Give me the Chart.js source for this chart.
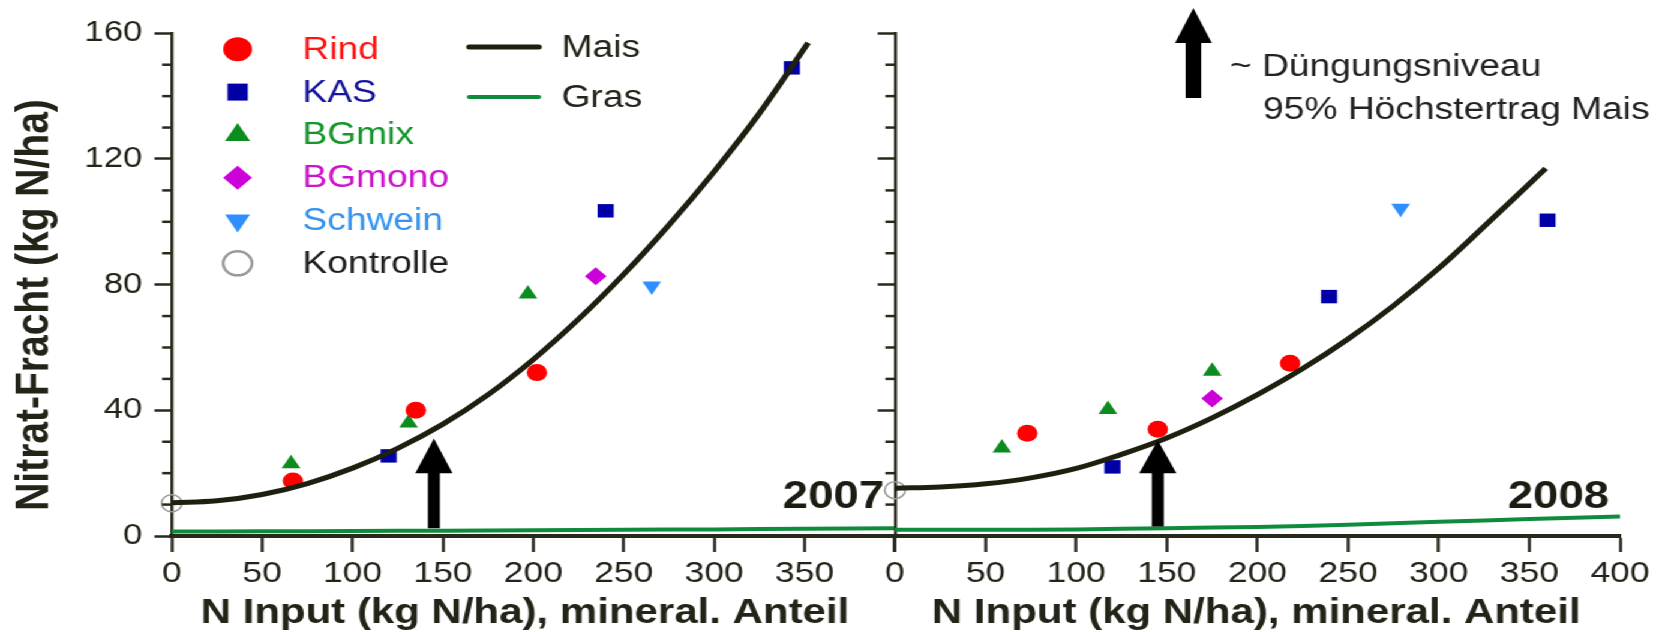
<!DOCTYPE html>
<html>
<head>
<meta charset="utf-8">
<script src="https://cdn.jsdelivr.net/npm/chart.js@4/dist/chart.umd.min.js"></script>
<style>
  html, body { margin: 0; padding: 0; background: #fff; overflow: hidden; }
  /* the reference is stretched sideways, so the whole figure is drawn narrow and widened */
  #wrap { position: relative; width: 1396px; height: 632px; transform: scaleX(1.2); transform-origin: 0 0; }
  #wrap canvas { position: absolute; left: 0; top: 0; }
</style>
</head>
<body>
<div id="wrap">
  <canvas id="c2007" width="1396" height="632"></canvas>
  <canvas id="c2008" width="1396" height="632"></canvas>
</div>
<script>
const categories = ["Rind", "KAS", "BGmix", "BGmono", "Schwein", "Kontrolle"];
const years = ["2007", "2008"];
const xTicks = [0, 50, 100, 150, 200, 250, 300, 350, 400];
const yTicks = [0, 40, 80, 120, 160];
const yMinorTicks = [10, 20, 30, 50, 60, 70, 90, 100, 110, 130, 140, 150];
const xTitle = "N Input (kg N/ha), mineral. Anteil";
const yTitle = "Nitrat-Fracht (kg N/ha)";

// 2007, [N input, Nitrat-Fracht]
const rind2007 = [[67, 17.5], [135, 40], [202, 52]];
const kas2007 = [[120, 25.5], [240, 103.5], [343, 149]];
const bgmix2007 = [[66, 23], [131, 36], [197, 77]];
const bgmono2007 = [[234.5, 82.7]];
const schwein2007 = [[265.5, 79.6]];
const kontrolle2007 = [[0, 10.4]];

// 2008
const rind2008 = [[73, 32.7], [145, 34], [218, 55]];
const kas2008 = [[120, 22], [239.5, 76.2], [360, 100.5]];
const bgmix2008 = [[59, 28], [117.5, 40.3], [175, 52.4]];
const bgmono2008 = [[175, 43.8]];
const schwein2008 = [[279, 104.3]];
const kontrolle2008 = [[0, 14.6]];

// fitted curves
const maisX2007 = [0, 25, 50, 75, 100, 125, 150, 175, 200, 225, 250, 275, 300, 325, 352];
const mais2007 = [10.6, 11.2, 13.2, 16.7, 21.6, 27.9, 35.6, 45, 56.2, 69, 83.3, 99, 116, 134.5, 157];
const maisX2008 = [0, 25, 50, 75, 100, 125, 150, 175, 200, 225, 250, 275, 300, 325, 359];
const mais2008 = [15.2, 15.6, 16.6, 18.5, 21.5, 26, 31.2, 37.6, 45, 53.3, 62.7, 73.3, 85.2, 98.5, 117];
const grasX = [0, 50, 100, 150, 200, 250, 300, 350, 400];
const gras2007 = [1.4, 1.5, 1.6, 1.7, 1.8, 2.0, 2.1, 2.3, 2.5];
const gras2008 = [2.0, 2.0, 2.1, 2.5, 2.9, 3.6, 4.5, 5.4, 6.2];

// arrows: fertilisation level for 95% of max yield
const arrowX = [145, 145];
const arrowBottom = [2.5, 3];
const arrowHeadBase = [20, 20];
const arrowTip = [31, 30.5];

const axisColor = "#29291b";
const textColor = "#232318";
const font = '"Liberation Sans", Arial, sans-serif';

const look = {
  Rind: { color: "#ff0000", text: "#ff1414", style: "circle", r: 8.5 },
  KAS: { color: "#0000a6", text: "#1414a0", style: "rect", r: 9.5 },
  BGmix: { color: "#0a8c1e", text: "#14962a", style: "triangle", r: 9 },
  BGmono: { color: "#cc00d8", text: "#cc14cc", style: "rectRot", r: 9 },
  Schwein: { color: "#2f8fff", text: "#3592ee", style: "triangle", r: 9, rot: 180 },
  Kontrolle: { color: "#9a9a9a", text: "#1e1e1e", style: "circle", r: 8.5, open: true }
};

function pts(list) {
  return list.map(p => ({ x: p[0], y: p[1] }));
}
function curve(xs, ys) {
  return xs.map((x, i) => ({ x: x, y: ys[i] }));
}

function pointSet(name, list) {
  const l = look[name];
  return {
    label: name,
    data: pts(list),
    pointStyle: l.style,
    pointRadius: l.r,
    pointRotation: l.rot || 0,
    pointBackgroundColor: l.open ? "rgba(0,0,0,0)" : l.color,
    pointBorderColor: l.color,
    pointBorderWidth: l.open ? 1.5 : 0,
    clip: false
  };
}

function lineSet(name, data, color, width) {
  return {
    label: name,
    data: data,
    showLine: true,
    borderColor: color,
    borderWidth: width,
    pointRadius: 0,
    tension: 0.4,
    fill: false,
    clip: false
  };
}

function drawArrow(ctx, x, yTip, yBase, yBot, head, shaft) {
  ctx.beginPath();
  ctx.moveTo(x - shaft, yBot);
  ctx.lineTo(x - shaft, yBase);
  ctx.lineTo(x - head, yBase);
  ctx.lineTo(x, yTip);
  ctx.lineTo(x + head, yBase);
  ctx.lineTo(x + shaft, yBase);
  ctx.lineTo(x + shaft, yBot);
  ctx.closePath();
  ctx.fill();
}

const decor = {
  id: "decor",
  afterDatasetsDraw(chart, args, opts) {
    const ctx = chart.ctx;
    const xs = chart.scales.x, ys = chart.scales.y, a = chart.chartArea;
    const i = opts.panel;
    ctx.save();

    // minor ticks on the y axis
    ctx.strokeStyle = axisColor;
    ctx.lineWidth = 2.5;
    yMinorTicks.forEach(v => {
      const py = ys.getPixelForValue(v);
      ctx.beginPath();
      ctx.moveTo(a.left, py);
      ctx.lineTo(a.left - 8, py);
      ctx.stroke();
    });

    // arrow in the plot
    ctx.fillStyle = "#000";
    drawArrow(ctx, xs.getPixelForValue(arrowX[i]), ys.getPixelForValue(arrowTip[i]),
      ys.getPixelForValue(arrowHeadBase[i]), ys.getPixelForValue(arrowBottom[i]), 15.5, 5);

    // year
    ctx.fillStyle = "#1c1c12";
    ctx.font = "bold 38px " + font;
    ctx.textAlign = "right";
    ctx.textBaseline = "alphabetic";
    ctx.fillText(years[i], a.right - 9, 508);

    // axis titles
    ctx.fillStyle = textColor;
    ctx.font = "bold 35px " + font;
    ctx.textAlign = "center";
    ctx.fillText(xTitle, (a.left + a.right) / 2 - (i === 0 ? 7 : 1), 622.5);

    if (i === 0) {
      ctx.save();
      ctx.translate(39.5, 305);
      ctx.rotate(-Math.PI / 2);
      ctx.font = "bold 39px " + font;
      ctx.textAlign = "center";
      ctx.textBaseline = "alphabetic";
      ctx.fillText(yTitle, 0, 0);
      ctx.restore();

      // legend
      const rows = [49.3, 92.1, 134.9, 177.7, 220.5, 263.3];
      ctx.font = "31px " + font;
      ctx.textAlign = "left";
      ctx.textBaseline = "middle";
      categories.forEach((name, k) => {
        const l = look[name];
        ctx.fillStyle = l.open ? "rgba(0,0,0,0)" : l.color;
        ctx.strokeStyle = l.color;
        Chart.helpers.drawPoint(ctx, {
          pointStyle: l.style, radius: 12, rotation: l.rot || 0,
          borderWidth: l.open ? 1.5 : 0
        }, 198, rows[k]);
        ctx.fillStyle = l.text;
        ctx.fillText(name, 252, rows[k] + 1);
      });
      const lineRows = [[47, "Mais", "#1f1f10", 5], [97, "Gras", "#0e8c3c", 4]];
      lineRows.forEach(r => {
        ctx.strokeStyle = r[2];
        ctx.lineWidth = r[3];
        ctx.lineCap = "round";
        ctx.beginPath();
        ctx.moveTo(391, r[0]);
        ctx.lineTo(449, r[0]);
        ctx.stroke();
        ctx.fillStyle = textColor;
        ctx.fillText(r[1], 468, r[0] + 1);
      });
    } else {
      // note on the arrow
      ctx.fillStyle = "#000";
      drawArrow(ctx, 994.5, 8, 43, 98, 15.3, 6.5);
      ctx.fillStyle = "#222";
      ctx.font = "31px " + font;
      ctx.textAlign = "left";
      ctx.textBaseline = "alphabetic";
      ctx.fillText("~ Düngungsniveau", 1025, 76);
      ctx.fillText("95% Höchstertrag Mais", 1052.5, 119);
    }
    ctx.restore();
  }
};

function makeChart(id, panel, sets, mais, maisX, gras) {
  const left = panel === 0;
  return new Chart(document.getElementById(id), {
    type: "scatter",
    data: {
      datasets: [
        lineSet("Mais", curve(maisX, mais), "#1f1f10", 5),
        lineSet("Gras", curve(grasX, gras), "#0e8c3c", 4),
        pointSet("Rind", sets[0]),
        pointSet("KAS", sets[1]),
        pointSet("BGmix", sets[2]),
        pointSet("BGmono", sets[3]),
        pointSet("Schwein", sets[4]),
        pointSet("Kontrolle", sets[5])
      ]
    },
    options: {
      responsive: false,
      animation: false,
      events: [],
      layout: {
        padding: left
          ? { left: 0, top: 33.3, right: 650.2, bottom: 0 }
          : { left: 725.8, top: 33.3, right: 46, bottom: 0 }
      },
      plugins: {
        legend: { display: false },
        tooltip: { enabled: false },
        decor: { panel: panel }
      },
      scales: {
        x: {
          type: "linear",
          min: 0,
          max: 400,
          afterBuildTicks: s => { s.ticks = xTicks.map(v => ({ value: v })); },
          afterFit: s => { s.height = 96; },
          ticks: {
            color: textColor,
            font: { family: font, size: 29.5 },
            padding: 4,
            maxRotation: 0,
            autoSkip: false,
            callback: v => (left && v === 400 ? "" : v)
          },
          grid: { drawOnChartArea: false, drawTicks: true, tickLength: 16, tickWidth: 2.5, tickColor: axisColor },
          border: { display: true, color: axisColor, width: 4 }
        },
        y: {
          min: 0,
          max: 160,
          afterBuildTicks: s => { s.ticks = yTicks.map(v => ({ value: v })); },
          afterFit: s => { s.width = left ? 143.1 : 20; },
          ticks: {
            color: textColor,
            font: { family: font, size: 29 },
            padding: 10,
            callback: v => (left ? v : "")
          },
          grid: { drawOnChartArea: false, drawTicks: true, tickLength: 14.4, tickWidth: 2.5, tickColor: axisColor },
          border: { display: true, color: axisColor, width: 2.5 }
        }
      }
    },
    plugins: [decor]
  });
}

makeChart("c2007", 0,
  [rind2007, kas2007, bgmix2007, bgmono2007, schwein2007, kontrolle2007],
  mais2007, maisX2007, gras2007);
makeChart("c2008", 1,
  [rind2008, kas2008, bgmix2008, bgmono2008, schwein2008, kontrolle2008],
  mais2008, maisX2008, gras2008);
</script>
</body>
</html>
